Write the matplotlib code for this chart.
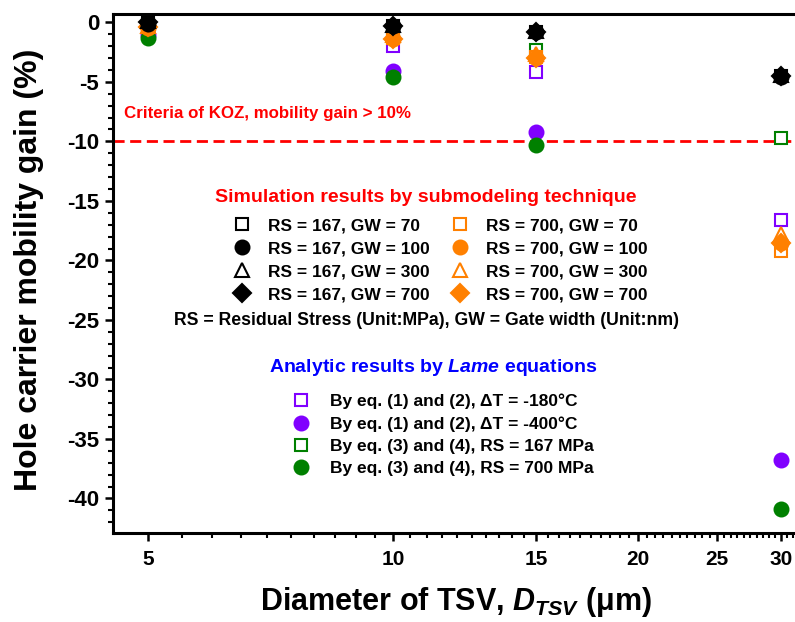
import matplotlib
matplotlib.use("Agg")
import matplotlib.pyplot as plt
import numpy as np
from matplotlib.ticker import FixedLocator, NullFormatter, FixedFormatter

plt.rcParams['font.family'] = ['Liberation Sans', 'DejaVu Sans']
plt.rcParams['font.weight'] = 'bold'
plt.rcParams['axes.unicode_minus'] = False
plt.rcParams['mathtext.fontset'] = 'custom'
plt.rcParams['mathtext.it'] = 'Liberation Sans:italic:bold'
plt.rcParams['mathtext.rm'] = 'Liberation Sans:bold'
plt.rcParams['mathtext.bf'] = 'Liberation Sans:bold'

# TSV diameters (um)
diameters = [5, 10, 15, 30]

# Submodeling simulation, RS = 167 MPa
rs167_gw70 = [0.0, -0.3, -0.8, -4.5]
rs167_gw100 = [-0.1, -0.3, -0.8, -4.6]
rs167_gw300 = [0.1, -0.2, -0.7, -4.4]
rs167_gw700 = [0.0, -0.35, -0.8, -4.5]

# Submodeling simulation, RS = 700 MPa
rs700_gw70 = [-0.4, -1.3, -2.9, -19.2]
rs700_gw100 = [-0.5, -1.4, -3.0, -18.5]
rs700_gw300 = [-0.3, -1.1, -2.7, -17.8]
rs700_gw700 = [-0.4, -1.4, -3.0, -18.5]

# Analytic Lame solutions
eq12_dt180 = [-0.5, -2.0, -4.2, -16.6]
eq12_dt400 = [-1.1, -4.1, -9.2, -36.8]
eq34_rs167 = [-0.2, -0.8, -2.3, -9.7]
eq34_rs700 = [-1.3, -4.6, -10.3, -40.9]

koz_limit = -10

x_ticks = [5, 10, 15, 20, 25, 30]
y_ticks = [0, -5, -10, -15, -20, -25, -30, -35, -40]

BLACK = '#000000'
ORANGE = '#FF8000'
PURPLE = '#8000FF'
GREEN = '#008000'

fig = plt.figure(figsize=(7.95, 6.22), dpi=100)
ax = fig.add_axes([113 / 795, 1 - 533 / 622, 691 / 795, 519 / 622])


def series(y, marker, color, filled, label, ms):
    face = color if filled else 'white'
    h, = ax.plot(diameters, y, linestyle='none', marker=marker, markersize=ms,
                 markerfacecolor=face, markeredgecolor=color,
                 markeredgewidth=1.5, label=label, zorder=3)
    return h


ax.axhline(koz_limit, color='#FF0000', linestyle=(0, (4, 2)), linewidth=2, zorder=2)

# analytic results drawn beneath the simulation markers
a1 = series(eq12_dt180, 's', PURPLE, False, 'By eq. (1) and (2), ΔT = -180°C', 8)
a2 = series(eq12_dt400, 'o', PURPLE, True, 'By eq. (1) and (2), ΔT = -400°C', 10)
a3 = series(eq34_rs167, 's', GREEN, False, 'By eq. (3) and (4), RS = 167 MPa', 8)
a4 = series(eq34_rs700, 'o', GREEN, True, 'By eq. (3) and (4), RS = 700 MPa', 10)

o1 = series(rs700_gw70, 's', ORANGE, False, 'RS = 700, GW = 70', 8)
o2 = series(rs700_gw100, 'o', ORANGE, True, 'RS = 700, GW = 100', 10)
o3 = series(rs700_gw300, '^', ORANGE, False, 'RS = 700, GW = 300', 10)
o4 = series(rs700_gw700, 'D', ORANGE, True, 'RS = 700, GW = 700', 9)

b1 = series(rs167_gw70, 's', BLACK, False, 'RS = 167, GW = 70', 8)
b2 = series(rs167_gw100, 'o', BLACK, True, 'RS = 167, GW = 100', 10)
b3 = series(rs167_gw300, '^', BLACK, False, 'RS = 167, GW = 300', 10)
b4 = series(rs167_gw700, 'D', BLACK, True, 'RS = 167, GW = 700', 9)

ax.set_xscale('log')
ax.set_xlim(4.53, 32)
ax.set_ylim(-42.9, 0.7)

ax.xaxis.set_major_locator(FixedLocator(x_ticks))
ax.xaxis.set_major_formatter(FixedFormatter([str(v) for v in x_ticks]))
minor_x = [v for v in np.arange(5, 32, 0.5) if v not in x_ticks]
ax.xaxis.set_minor_locator(FixedLocator(minor_x))
ax.xaxis.set_minor_formatter(NullFormatter())

ax.yaxis.set_major_locator(FixedLocator(y_ticks))
ax.yaxis.set_major_formatter(FixedFormatter([str(v) for v in y_ticks]))
ax.yaxis.set_minor_locator(FixedLocator([v for v in range(-42, 1) if v % 5 != 0]))

for s in ax.spines.values():
    s.set_linewidth(2.2)
ax.tick_params(which='major', direction='out', length=6, width=1.8,
               labelsize=15, top=False, right=False)
ax.tick_params(which='minor', direction='out', length=3.5, width=1.5,
               top=False, right=False)
ax.tick_params(axis='x', which='major', pad=6)
ax.tick_params(axis='y', which='major', pad=4, labelsize=16)
for lab in ax.get_xticklabels() + ax.get_yticklabels():
    lab.set_fontweight('bold')

ax.set_xlabel('Diameter of TSV, $D_{TSV}$ (μm)', fontsize=22, fontweight='bold')
ax.xaxis.set_label_coords(0.496, -0.101)
ax.set_ylabel('Hole carrier mobility gain (%)', fontsize=23, fontweight='bold')
ax.yaxis.set_label_coords(-0.100, 0.507)

ax.text(4.67, -7.65, 'Criteria of KOZ, mobility gain > 10%', color='#FF0000',
        fontsize=12.2, fontweight='bold', va='center', ha='left')

# simulation group
ax.text(0.453, 0.647, 'Simulation results by submodeling technique', color='#FF0000',
        transform=ax.transAxes, fontsize=14, fontweight='bold', ha='center', va='center')
leg1 = ax.legend(handles=[b1, b2, b3, b4, o1, o2, o3, o4], ncol=2, frameon=False,
                 loc='upper left', bbox_to_anchor=(0.1716, 0.607),
                 prop={'size': 12.5, 'weight': 'bold'}, handlelength=1.2,
                 handletextpad=0.9, columnspacing=1.15, labelspacing=0.45,
                 borderaxespad=0, borderpad=0)
ax.add_artist(leg1)

ax.text(0.453, 0.410, 'RS = Residual Stress (Unit:MPa), GW = Gate width (Unit:nm)',
        transform=ax.transAxes, fontsize=12.7, fontweight='bold', ha='center', va='center')

# analytic group
ax.text(0.463, 0.318, 'Analytic results by $Lame$ equations', color='#0000FF',
        transform=ax.transAxes, fontsize=14, fontweight='bold', ha='center', va='center')
leg2 = ax.legend(handles=[a1, a2, a3, a4], frameon=False,
                 loc='upper left', bbox_to_anchor=(0.257, 0.268),
                 prop={'size': 12.5, 'weight': 'bold'}, handlelength=1.2,
                 handletextpad=1.07, labelspacing=0.39,
                 borderaxespad=0, borderpad=0)

fig.savefig('out.png', dpi=100)
